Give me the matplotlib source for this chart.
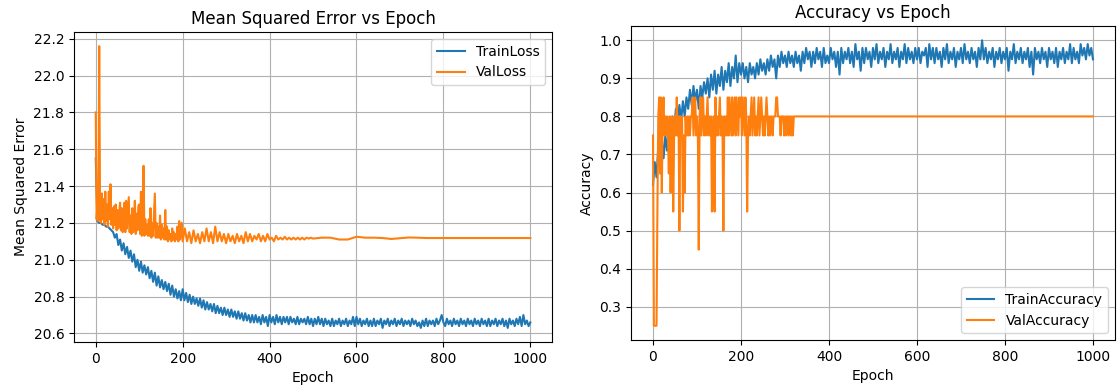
import numpy as np
import matplotlib
matplotlib.use("Agg")
import matplotlib.pyplot as plt

# Epoch grids (sampled from the curves in the picture)
loss_epochs = np.arange(0, 1001, 4)
acc_epochs = np.arange(0, 1001, 4)
val_loss_epochs = np.concatenate([np.arange(0, 200, 2), np.arange(200, 500, 5), np.arange(500, 1001, 20)])
val_acc_epochs = np.concatenate([np.arange(0, 321, 2), [1000]])

train_loss = [
    21.55, 21.21, 21.20, 21.20, 21.19, 21.19, 21.18, 21.18, 21.17, 21.16,
    21.15, 21.12, 21.14, 21.08, 21.11, 21.05, 21.09, 21.03, 21.07, 21.01,
    21.05, 20.99, 21.03, 20.96, 21.00, 20.94, 20.99, 20.93, 20.97, 20.92,
    20.96, 20.90, 20.94, 20.88, 20.93, 20.86, 20.91, 20.85, 20.89, 20.84,
    20.88, 20.83, 20.87, 20.81, 20.86, 20.80, 20.84, 20.79, 20.83, 20.78,
    20.84, 20.78, 20.82, 20.77, 20.81, 20.76, 20.80, 20.76, 20.79, 20.75,
    20.79, 20.74, 20.78, 20.73, 20.77, 20.73, 20.76, 20.72, 20.76, 20.71,
    20.75, 20.71, 20.74, 20.70, 20.74, 20.70, 20.73, 20.69, 20.73, 20.69,
    20.72, 20.68, 20.72, 20.68, 20.71, 20.67, 20.71, 20.67, 20.70, 20.66,
    20.70, 20.66, 20.70, 20.66, 20.69, 20.65, 20.70, 20.66, 20.69, 20.64,
    20.70, 20.66, 20.69, 20.65, 20.70, 20.66, 20.69, 20.65, 20.69, 20.66,
    20.69, 20.65, 20.69, 20.66, 20.68, 20.65, 20.69, 20.65, 20.68, 20.66,
    20.68, 20.65, 20.69, 20.65, 20.68, 20.64, 20.68, 20.65, 20.69, 20.65,
    20.68, 20.64, 20.68, 20.65, 20.67, 20.64, 20.68, 20.64, 20.67, 20.65,
    20.68, 20.64, 20.67, 20.65, 20.68, 20.64, 20.67, 20.65, 20.69, 20.64,
    20.69, 20.65, 20.68, 20.64, 20.67, 20.65, 20.68, 20.64, 20.67, 20.64,
    20.68, 20.64, 20.67, 20.65, 20.68, 20.63, 20.67, 20.65, 20.68, 20.64,
    20.67, 20.65, 20.68, 20.64, 20.67, 20.65, 20.68, 20.64, 20.67, 20.65,
    20.67, 20.64, 20.68, 20.65, 20.67, 20.64, 20.66, 20.63, 20.67, 20.64,
    20.68, 20.64, 20.67, 20.65, 20.67, 20.64, 20.68, 20.65, 20.67, 20.70,
    20.66, 20.64, 20.68, 20.65, 20.67, 20.64, 20.68, 20.65, 20.67, 20.64,
    20.68, 20.65, 20.67, 20.64, 20.68, 20.65, 20.67, 20.64, 20.68, 20.65,
    20.67, 20.64, 20.68, 20.65, 20.67, 20.64, 20.68, 20.64, 20.67, 20.65,
    20.68, 20.64, 20.67, 20.65, 20.68, 20.64, 20.67, 20.63, 20.68, 20.65,
    20.67, 20.64, 20.68, 20.65, 20.69, 20.64, 20.70, 20.65, 20.67, 20.64,
    20.66,
]

val_loss = [
    21.80, 21.22, 21.30, 21.21, 22.16, 21.24, 21.20, 21.36, 21.22, 21.33,
    21.19, 21.37, 21.21, 21.30, 21.18, 21.37, 21.22, 21.41, 21.19, 21.28,
    21.17, 21.29, 21.19, 21.30, 21.16, 21.27, 21.17, 21.25, 21.31, 21.16,
    21.28, 21.15, 21.24, 21.31, 21.15, 21.32, 21.17, 21.26, 21.34, 21.15,
    21.24, 21.14, 21.28, 21.15, 21.22, 21.32, 21.14, 21.25, 21.16, 21.29,
    21.30, 21.14, 21.37, 21.13, 21.24, 21.51, 21.13, 21.22, 21.14, 21.19,
    21.13, 21.22, 21.13, 21.28, 21.12, 21.20, 21.13, 21.24, 21.36, 21.12,
    21.20, 21.12, 21.18, 21.12, 21.24, 21.11, 21.19, 21.12, 21.17, 21.11,
    21.27, 21.11, 21.18, 21.10, 21.16, 21.11, 21.14, 21.10, 21.17, 21.11,
    21.15, 21.10, 21.14, 21.11, 21.18, 21.10, 21.21, 21.11, 21.14, 21.20,
    21.10, 21.17, 21.10, 21.15, 21.09, 21.16, 21.10, 21.14, 21.09, 21.15,
    21.10, 21.17, 21.10, 21.15, 21.09, 21.18, 21.10, 21.15, 21.10, 21.14,
    21.09, 21.14, 21.10, 21.13, 21.09, 21.14, 21.10, 21.13, 21.09, 21.15,
    21.10, 21.14, 21.10, 21.13, 21.11, 21.14, 21.10, 21.13, 21.10, 21.14,
    21.11, 21.12, 21.10, 21.13, 21.11, 21.12, 21.11, 21.125, 21.11, 21.12,
    21.11, 21.12, 21.11, 21.12, 21.11, 21.12, 21.11, 21.12, 21.115, 21.12,
    21.115, 21.12, 21.12, 21.11, 21.11, 21.125, 21.12, 21.12, 21.118, 21.113,
    21.117, 21.121, 21.12, 21.118, 21.118, 21.118, 21.118, 21.118, 21.118,
    21.118, 21.118, 21.118, 21.118, 21.118, 21.118, 21.118,
]

train_acc = [
    0.62, 0.68, 0.64, 0.72, 0.66, 0.74, 0.69, 0.75, 0.71, 0.77,
    0.74, 0.80, 0.76, 0.82, 0.78, 0.83, 0.79, 0.84, 0.80, 0.85,
    0.82, 0.87, 0.83, 0.88, 0.84, 0.87, 0.82, 0.88, 0.85, 0.89,
    0.86, 0.90, 0.85, 0.91, 0.87, 0.92, 0.86, 0.91, 0.88, 0.93,
    0.87, 0.92, 0.89, 0.94, 0.88, 0.93, 0.90, 0.96, 0.89, 0.94,
    0.91, 0.94, 0.90, 0.93, 0.89, 0.94, 0.91, 0.93, 0.90, 0.94,
    0.91, 0.95, 0.92, 0.94, 0.91, 0.95, 0.92, 0.96, 0.93, 0.95,
    0.90, 0.96, 0.93, 0.97, 0.94, 0.96, 0.93, 0.97, 0.94, 0.96,
    0.93, 0.97, 0.94, 0.96, 0.92, 0.97, 0.94, 0.98, 0.95, 0.97,
    0.93, 0.97, 0.94, 0.98, 0.95, 0.97, 0.93, 0.98, 0.94, 0.96,
    0.94, 0.98, 0.95, 0.97, 0.93, 0.97, 0.91, 0.98, 0.94, 0.97,
    0.95, 0.98, 0.94, 0.97, 0.93, 0.99, 0.95, 0.97, 0.92, 0.98,
    0.94, 0.98, 0.95, 0.97, 0.93, 0.98, 0.95, 0.99, 0.94, 0.97,
    0.95, 0.98, 0.93, 0.97, 0.95, 0.99, 0.94, 0.97, 0.95, 0.98,
    0.93, 0.97, 0.95, 0.99, 0.94, 0.98, 0.95, 0.97, 0.94, 0.98,
    0.95, 0.98, 0.94, 0.97, 0.96, 0.98, 0.93, 0.99, 0.95, 0.98,
    0.94, 0.98, 0.95, 0.97, 0.93, 0.98, 0.95, 0.99, 0.94, 0.97,
    0.95, 0.98, 0.93, 0.97, 0.95, 0.98, 0.94, 0.99, 0.95, 0.97,
    0.94, 0.98, 0.95, 0.97, 0.93, 0.98, 0.95, 1.00, 0.95, 0.98,
    0.94, 0.97, 0.95, 0.98, 0.93, 0.97, 0.95, 0.98, 0.94, 0.97,
    0.95, 0.98, 0.92, 0.97, 0.95, 0.99, 0.94, 0.97, 0.95, 0.98,
    0.94, 0.97, 0.95, 0.98, 0.93, 0.97, 0.91, 0.98, 0.95, 0.97,
    0.94, 0.98, 0.95, 0.97, 0.93, 0.98, 0.95, 0.97, 0.94, 0.98,
    0.93, 0.97, 0.95, 0.98, 0.94, 0.97, 0.95, 0.99, 0.94, 0.98,
    0.95, 0.97, 0.94, 0.99, 0.96, 0.98, 0.95, 0.99, 0.96, 0.98,
    0.95,
]

val_acc = [
    0.75, 0.25, 0.25, 0.25, 0.25, 0.55, 0.8, 0.85, 0.65, 0.85,
    0.6, 0.8, 0.85, 0.75, 0.8, 0.75, 0.8, 0.75, 0.65, 0.8,
    0.6, 0.75, 0.8, 0.55, 0.75, 0.8, 0.75, 0.85, 0.75, 0.8,
    0.5, 0.8, 0.75, 0.8, 0.55, 0.75, 0.6, 0.8, 0.75, 0.8,
    0.75, 0.8, 0.75, 0.8, 0.8, 0.85, 0.75, 0.8, 0.85, 0.75,
    0.8, 0.75, 0.45, 0.8, 0.85, 0.75, 0.8, 0.85, 0.75, 0.8,
    0.75, 0.8, 0.85, 0.75, 0.8, 0.75, 0.8, 0.55, 0.75, 0.8,
    0.55, 0.85, 0.75, 0.8, 0.75, 0.8, 0.85, 0.75, 0.8, 0.75,
    0.5, 0.8, 0.75, 0.8, 0.75, 0.85, 0.75, 0.85, 0.8, 0.75,
    0.85, 0.75, 0.8, 0.85, 0.75, 0.85, 0.8, 0.75, 0.85, 0.8,
    0.85, 0.75, 0.85, 0.8, 0.75, 0.85, 0.8, 0.55, 0.75, 0.8,
    0.75, 0.8, 0.85, 0.75, 0.8, 0.85, 0.75, 0.8, 0.75, 0.8,
    0.85, 0.75, 0.8, 0.85, 0.8, 0.75, 0.8, 0.75, 0.8, 0.85,
    0.8, 0.75, 0.8, 0.75, 0.8, 0.8, 0.75, 0.8, 0.8, 0.8,
    0.85, 0.85, 0.8, 0.8, 0.8, 0.75, 0.8, 0.8, 0.8, 0.75,
    0.8, 0.75, 0.8, 0.8, 0.75, 0.8, 0.8, 0.75, 0.8, 0.75,
    0.8, 0.8,
]

fig = plt.figure(figsize=(11.18, 3.91), dpi=100)

# Loss plot
ax1 = fig.add_axes([0.0662, 0.1253, 0.4276, 0.7928])
ax1.plot(loss_epochs, train_loss, label="TrainLoss")
ax1.plot(val_loss_epochs, val_loss, label="ValLoss")
ax1.set_title("Mean Squared Error vs Epoch")
ax1.set_xlabel("Epoch")
ax1.set_ylabel("Mean Squared Error")
ax1.legend(loc="upper right")
ax1.grid(True)

# Accuracy plot
ax2 = fig.add_axes([0.5644, 0.1304, 0.4329, 0.803])
ax2.plot(acc_epochs, train_acc, label="TrainAccuracy")
ax2.plot(val_acc_epochs, val_acc, label="ValAccuracy")
ax2.set_title("Accuracy vs Epoch")
ax2.set_xlabel("Epoch")
ax2.set_ylabel("Accuracy")
ax2.legend(loc="lower right")
ax2.grid(True)

fig.savefig("out.png", dpi=100)
